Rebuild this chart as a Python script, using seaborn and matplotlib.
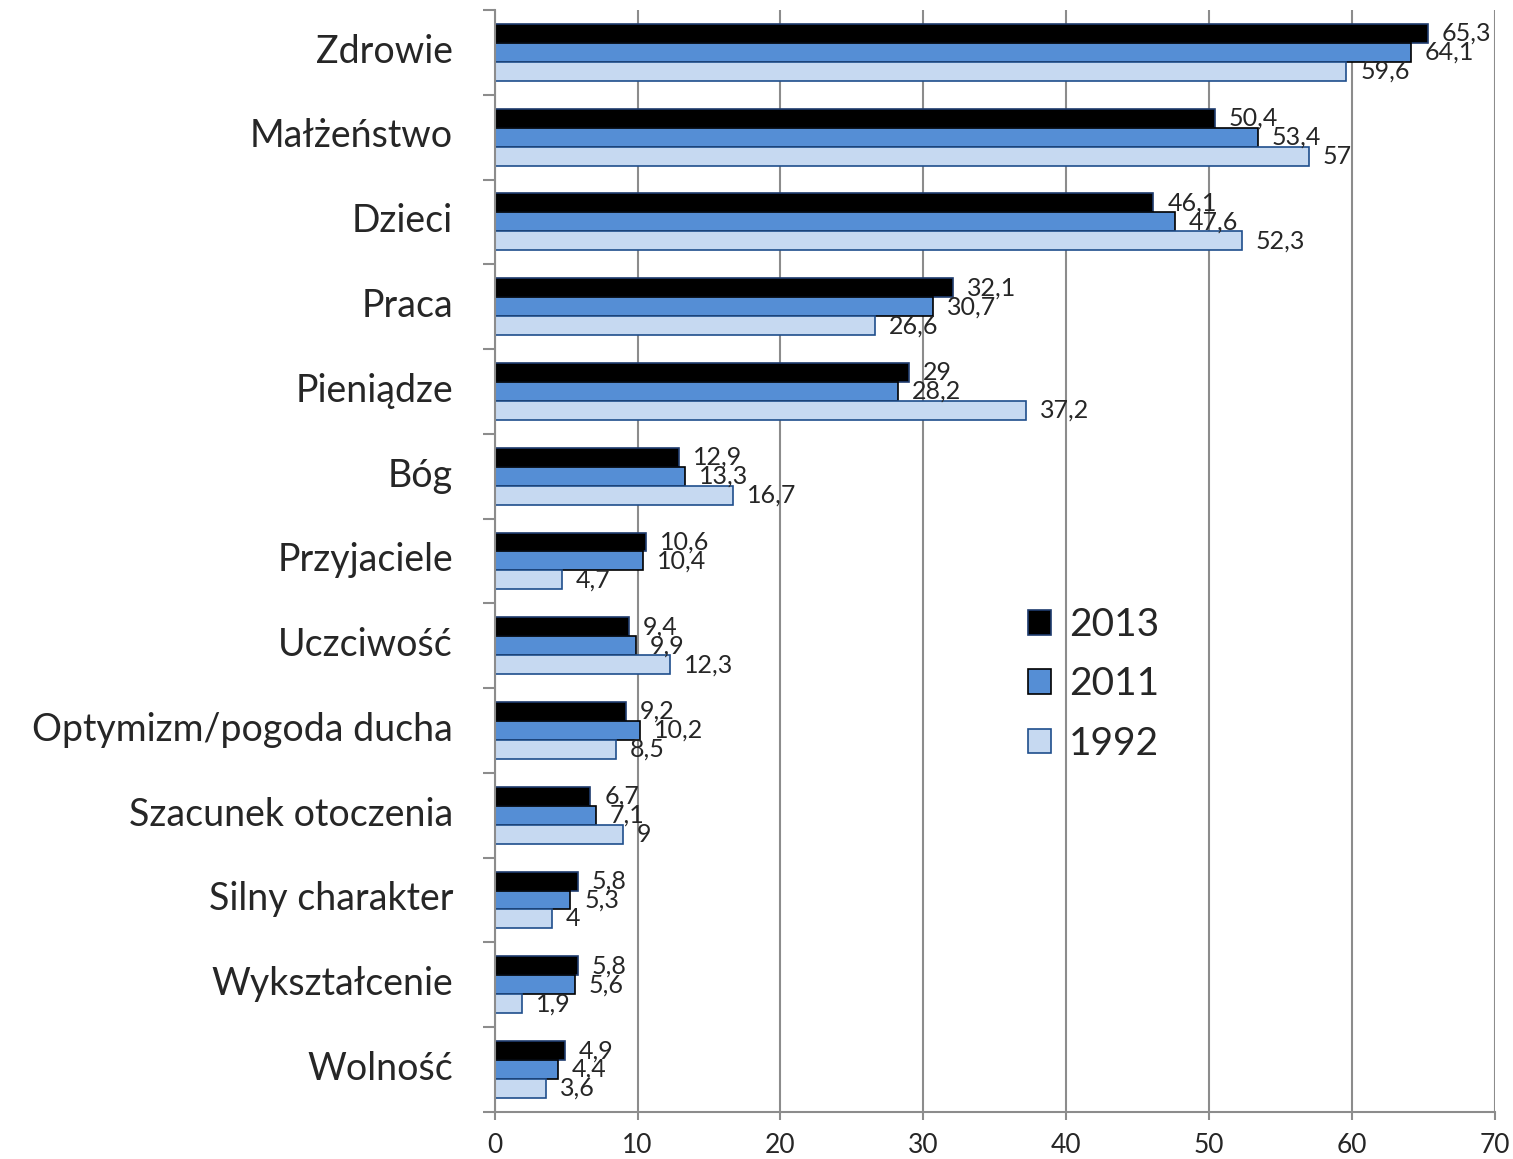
import pandas as pd
import seaborn as sns
import matplotlib.pyplot as plt
import matplotlib.transforms as mtransforms
from matplotlib.ticker import FixedLocator

categories = ["Zdrowie", "Małżeństwo", "Dzieci", "Praca", "Pieniądze", "Bóg",
              "Przyjaciele", "Uczciwość", "Optymizm/pogoda ducha",
              "Szacunek otoczenia", "Silny charakter", "Wykształcenie", "Wolność"]
years = ["2013", "2011", "1992"]
v2013 = [65.3, 50.4, 46.1, 32.1, 29, 12.9, 10.6, 9.4, 9.2, 6.7, 5.8, 5.8, 4.9]
v2011 = [64.1, 53.4, 47.6, 30.7, 28.2, 13.3, 10.4, 9.9, 10.2, 7.1, 5.3, 5.6, 4.4]
v1992 = [59.6, 57, 52.3, 26.6, 37.2, 16.7, 4.7, 12.3, 8.5, 9, 4, 1.9, 3.6]
x_ticks = [0, 10, 20, 30, 40, 50, 60, 70]

data = pd.DataFrame({
    "Kategoria": categories * 3,
    "Rok": [y for y in years for _ in categories],
    "Wartość": v2013 + v2011 + v1992,
})

sns.set_style("white")
plt.rcParams['font.family'] = ['Lato', 'DejaVu Sans']

fills = ["#000000", "#558ED5", "#C6D9F1"]
edges = ["#1F3C6E", "#000000", "#1F4E8C"]

fig = plt.figure(figsize=(15.13, 11.59), dpi=100)
ax = fig.add_axes([0.327, 0.0406, 0.661, 0.9508])

sns.barplot(data=data, x="Wartość", y="Kategoria", hue="Rok", order=categories,
            hue_order=years, palette=fills, orient="h", width=0.67,
            legend=False, ax=ax, saturation=1)

for cont, ec in zip(ax.containers, edges):
    for p in cont:
        p.set_edgecolor(ec)
        p.set_linewidth(1.2)
    labels = [("%g" % v).replace(".", ",") for v in cont.datavalues]
    ax.bar_label(cont, labels=labels, padding=10, fontsize=18)

ax.set_xlim(0, 70)
ax.set_ylim(len(categories) - 0.5, -0.5)
ax.set_xticks(x_ticks)
ax.set_xlabel("")
ax.set_ylabel("")
ax.grid(axis="x", color="#8c8c8c", linewidth=1.5)
ax.set_axisbelow(True)

for s in ["top", "right"]:
    ax.spines[s].set_visible(False)
for s in ["left", "bottom"]:
    ax.spines[s].set_color("#8c8c8c")
    ax.spines[s].set_linewidth(1.5)

ax.yaxis.set_minor_locator(FixedLocator([i - 0.5 for i in range(len(categories) + 1)]))
ax.tick_params(axis="y", which="major", length=0, pad=30, labelsize=27)
ax.tick_params(axis="y", which="minor", length=9, width=1.5, color="#8c8c8c", left=True)
ax.tick_params(axis="x", length=6, width=1.5, color="#8c8c8c", labelsize=19, pad=9, bottom=True)

# category labels sit a little above the group centre in the original
shift = mtransforms.ScaledTranslation(0, 3 / 72, fig.dpi_scale_trans)
for lab in ax.get_yticklabels():
    lab.set_transform(lab.get_transform() + shift)

ax.legend(ax.containers, years, loc="center left", bbox_to_anchor=(0.533, 0.388),
          frameon=False, fontsize=28, handlelength=0.6, handleheight=0.6,
          handletextpad=0.45, labelspacing=0.6, borderpad=0, borderaxespad=0)

fig.savefig("out.png", dpi=100)
